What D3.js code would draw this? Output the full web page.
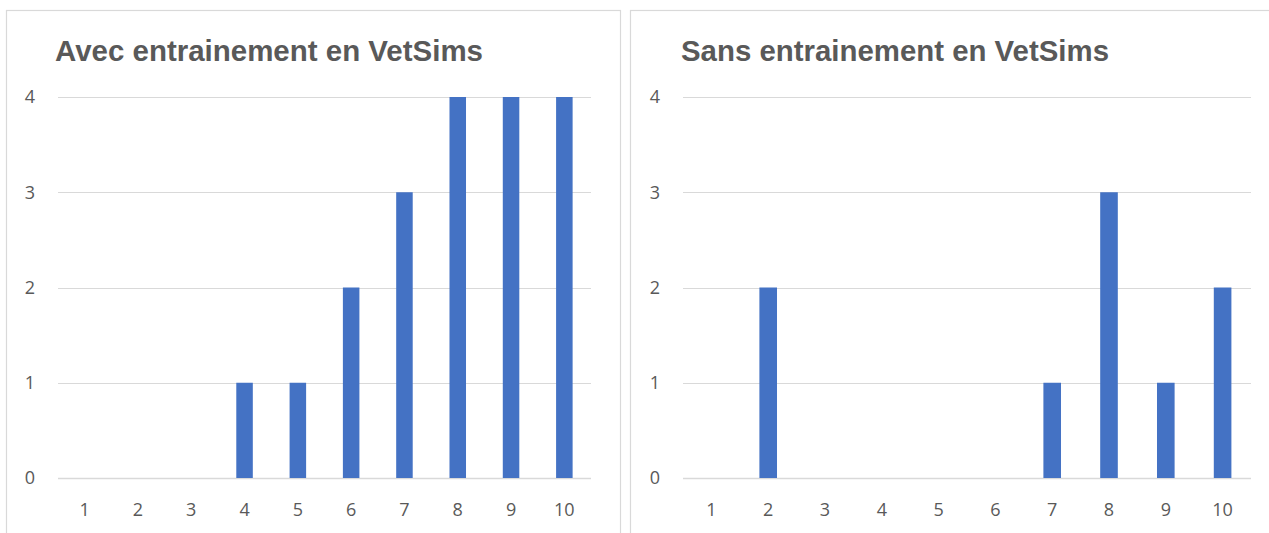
<!DOCTYPE html>
<html>
<head>
<meta charset="utf-8">
<script src="https://cdn.jsdelivr.net/npm/d3@7"></script>
<style>
  html, body { margin: 0; padding: 0; background: #fff; }
  svg { display: block; }
</style>
</head>
<body>
<svg id="chart" width="1269" height="533"></svg>
<script>
const categories = ["1", "2", "3", "4", "5", "6", "7", "8", "9", "10"];
const avecValues = [0, 0, 0, 1, 1, 2, 3, 4, 4, 4];
const sansValues = [0, 2, 0, 0, 0, 0, 1, 3, 1, 2];
const yTicks = [0, 1, 2, 3, 4];
const titles = ["Avec entrainement en VetSims", "Sans entrainement en VetSims"];

const svg = d3.select("#chart");

const panels = [
  { box: [6.5, 10.5, 614, 540], plot: [58, 591], title: titles[0], titleX: 55, titleW: 428, values: avecValues },
  { box: [630.5, 10.5, 650, 540], plot: [683, 1251], title: titles[1], titleX: 681, titleW: 428, values: sansValues }
];

const y = d3.scaleLinear().domain([0, 4]).range([478, 97]);

panels.forEach(p => {
  const g = svg.append("g");

  g.append("rect")
    .attr("x", p.box[0]).attr("y", p.box[1])
    .attr("width", p.box[2]).attr("height", p.box[3])
    .attr("fill", "#fff")
    .attr("stroke", "#d9d9d9")
    .attr("stroke-width", 1.2);

  g.append("text")
    .attr("x", p.titleX)
    .attr("y", 61)
    .attr("font-family", "Liberation Sans, Arial, sans-serif")
    .attr("font-weight", "bold")
    .attr("font-size", 30)
    .attr("fill", "#595959")
    .attr("textLength", p.titleW)
    .attr("lengthAdjust", "spacingAndGlyphs")
    .text(p.title);

  const x = d3.scaleBand().domain(categories).range(p.plot).paddingInner(0.69).paddingOuter(0.345);

  // gridlines
  g.append("g")
    .selectAll("line")
    .data(yTicks)
    .join("line")
    .attr("x1", p.plot[0]).attr("x2", p.plot[1])
    .attr("y1", d => Math.round(y(d)) + 0.5)
    .attr("y2", d => Math.round(y(d)) + 0.5)
    .attr("stroke", "#d9d9d9")
    .attr("stroke-width", d => d === 0 ? 1.5 : 1.2);

  // y labels
  g.append("g")
    .selectAll("text")
    .data(yTicks)
    .join("text")
    .attr("x", p.plot[0] - 28)
    .attr("y", d => y(d))
    .attr("dy", "0.36em")
    .attr("text-anchor", "middle")
    .attr("font-family", "Open Sans, sans-serif")
    .attr("font-size", 18)
    .attr("fill", "#595959")
    .text(d => d);

  // bars
  g.append("g")
    .selectAll("rect")
    .data(p.values)
    .join("rect")
    .attr("x", (d, i) => x(categories[i]))
    .attr("width", x.bandwidth())
    .attr("y", d => y(d))
    .attr("height", d => y(0) - y(d))
    .attr("fill", "#4472c4");

  // x labels
  const xc = d3.scaleBand().domain(categories).range(p.plot);
  g.append("g")
    .selectAll("text")
    .data(categories)
    .join("text")
    .attr("x", d => xc(d) + xc.bandwidth() / 2)
    .attr("y", 510)
    .attr("dy", "0.36em")
    .attr("text-anchor", "middle")
    .attr("font-family", "Open Sans, sans-serif")
    .attr("font-size", 18)
    .attr("fill", "#595959")
    .text(d => d);
});
</script>
</body>
</html>
